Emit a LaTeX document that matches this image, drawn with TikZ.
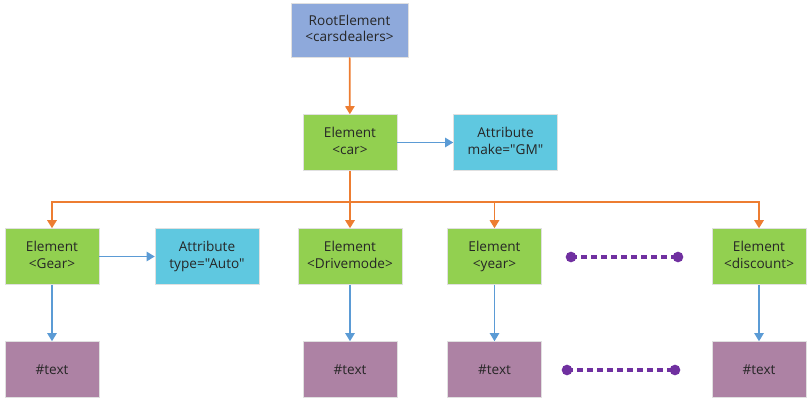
\documentclass[tikz,border=0pt]{standalone}
\usepackage{fontspec}
\setmainfont{Open Sans}[Ligatures=TeXOff]
\usepackage{tikz}
\usetikzlibrary{positioning,arrows.meta}
\definecolor{rootblue}{HTML}{8EA9DB}
\definecolor{elemgreen}{HTML}{92D050}
\definecolor{attrcyan}{HTML}{5FC8E0}
\definecolor{textmauve}{HTML}{AD82A4}
\definecolor{linkorange}{HTML}{ED7D31}
\definecolor{linkblue}{HTML}{5B9BD5}
\definecolor{dotpurple}{HTML}{7030A0}

\begin{document}
\begin{tikzpicture}[x=0.75pt,y=-0.75pt,
    font=\fontsize{10.2}{12.3}\selectfont,
    box/.style={draw=black!12,align=center,inner sep=0pt,text=black!85,
      minimum width=70.5pt,minimum height=42pt,
      execute at begin node=\rule{0pt}{9.8pt},
      execute at end node=\rule[-2.5pt]{0pt}{0pt}},
    rootbox/.style={box,fill=rootblue,minimum width=88pt,minimum height=40.5pt},
    elembox/.style={box,fill=elemgreen},
    attrbox/.style={box,fill=attrcyan,minimum width=78pt},
    textbox/.style={box,fill=textmauve},
    tree/.style={linkorange,line width=1.3pt,-{Triangle[width=7pt,length=6pt]}},
    link/.style={linkblue,line width=0.9pt,-{Triangle[width=7pt,length=6pt]}},
    more/.style={dotpurple,line width=2.5pt,dash pattern=on 4.5pt off 3pt}]
  \useasboundingbox (0,0) rectangle (812,406);
  % boxes
  \node[rootbox] (root) at (349.5,30) {RootElement\\<carsdealers>};
  \node[elembox] (car) at (350,142.5) {Element\\<car>};
  \node[attrbox] (make) at (505.5,142.5) {Attribute\\make="GM"};
  \node[elembox] (gear) at (52,256.5) {Element\\<Gear>};
  \node[attrbox] (type) at (207,256.5) {Attribute\\type="Auto"};
  \node[elembox,minimum width=78pt] (drive) at (350,256.5) {Element\\<Drivemode>};
  \node[elembox] (year) at (494.5,256.5) {Element\\<year>};
  \node[elembox] (disc) at (759,256.5) {Element\\<discount>};
  \node[textbox] (gtext) at (52,369.5) {\#text};
  \node[textbox] (dtext) at (350,369.5) {\#text};
  \node[textbox] (ytext) at (494.5,369.5) {\#text};
  \node[textbox] (ctext) at (759,369.5) {\#text};
  % tree links
  \coordinate (bus) at (350,202);
  \draw[tree] (root) -- (car);
  \draw[tree] (car.south) -- (bus) -| (gear.north);
  \draw[tree] (bus) -- (drive.north);
  \draw[tree] (bus) -| (year.north);
  \draw[tree] (bus) -| (disc.north);
  % attributes and text
  \draw[link] (car) -- (make);
  \draw[link] (gear) -- (type);
  \draw[link] (gear) -- (gtext);
  \draw[link] (drive) -- (dtext);
  \draw[link] (year) -- (ytext);
  \draw[link] (disc) -- (ctext);
  % more elements
  \coordinate (m1) at (571,257); \coordinate (m2) at (678,257);
  \coordinate (m3) at (567,370); \coordinate (m4) at (675,370);
  \draw[more] (m1) -- (m2);
  \draw[more] (m3) -- (m4);
  \foreach \m in {m1,m2,m3,m4}
    \fill[dotpurple] (\m) circle (4pt);
\end{tikzpicture}
\end{document}
